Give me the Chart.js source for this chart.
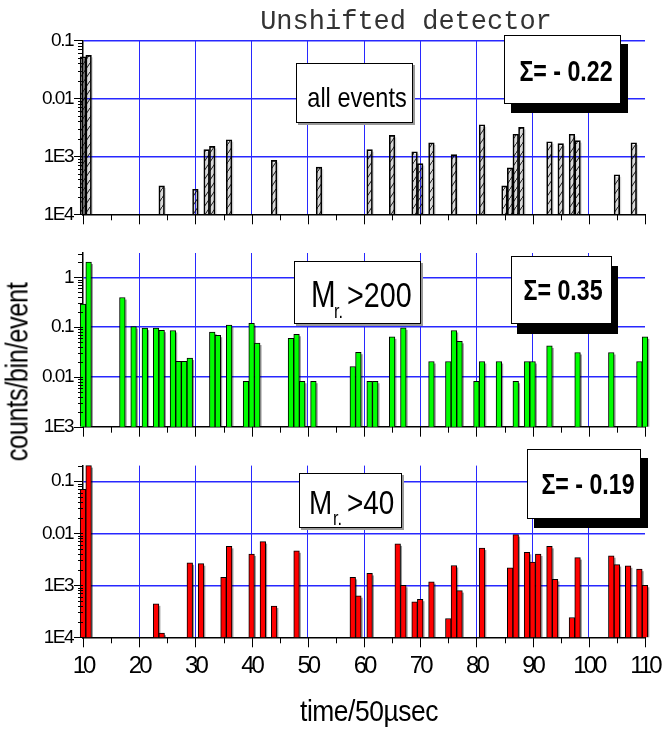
<!DOCTYPE html>
<html>
<head>
<meta charset="utf-8">
<script src="https://cdn.jsdelivr.net/npm/chart.js@4.4.1/dist/chart.umd.min.js"></script>
<style>
  html, body { margin: 0; padding: 0; background: #fff; }
  #wrap { position: relative; width: 663px; height: 732px; overflow: hidden; }
  #wrap canvas { position: absolute; left: 0; }
  .txt { position: absolute; white-space: nowrap; color: #000; }
  #title { left: 406px; top: 9px; font: 27px 'Liberation Mono', monospace; line-height: 27px; color: #333; transform: translateX(-50%); }
  #xlab { left: 369px; top: 696px; font: 30px 'Liberation Sans', sans-serif; line-height: 30px; letter-spacing: -0.5px; transform: translateX(-50%) scaleX(0.88); }
  #ylab { left: 17px; top: 372px; font: 31px 'Liberation Sans', sans-serif; line-height: 31px; letter-spacing: -0.5px; transform: translate(-50%, -50%) rotate(-90deg) scaleX(0.82); }
</style>
</head>
<body>
<div id="wrap">
  <canvas id="c1" width="663" height="232" style="top:0px"></canvas>
  <canvas id="c2" width="663" height="212" style="top:232px"></canvas>
  <canvas id="c3" width="663" height="288" style="top:444px"></canvas>
  <div class="txt" id="title">Unshifted detector</div>
  <div class="txt" id="ylab">counts/bin/event</div>
  <div class="txt" id="xlab">time/50µsec</div>
</div>
<script>
// all events
const bins1 = [10, 11, 24, 30, 32, 33, 36, 44, 52, 61, 65, 69, 70, 72, 76, 81, 85, 86, 87, 88, 93, 95, 97, 98, 105, 108];
const vals1 = [0.052, 0.055, 3.1e-4, 2.7e-4, 1.3e-3, 1.48e-3, 1.93e-3, 8.5e-4, 6.5e-4, 1.3e-3, 2.3e-3, 1.2e-3, 7.5e-4, 1.7e-3, 1.07e-3, 3.5e-3, 3.1e-4, 6.3e-4, 2.4e-3, 3.15e-3, 1.78e-3, 1.65e-3, 2.4e-3, 1.86e-3, 4.8e-4, 1.71e-3];

// Mr > 200
const bins2 = [10, 11, 17, 19, 21, 23, 24, 26, 27, 28, 29, 33, 34, 36, 39, 40, 41, 47, 48, 49, 51, 58, 59, 61, 62, 65, 67, 72, 75, 76, 77, 80, 81, 84, 87, 89, 90, 93, 98, 104, 109, 110];
const vals2 = [0.29, 2.04, 0.395, 0.103, 0.096, 0.096, 0.087, 0.086, 0.0206, 0.0206, 0.024, 0.08, 0.069, 0.11, 0.0082, 0.119, 0.048, 0.06, 0.072, 0.0082, 0.0082, 0.0162, 0.0314, 0.0082, 0.0082, 0.064, 0.097, 0.0204, 0.0204, 0.086, 0.052, 0.0082, 0.0204, 0.0204, 0.0082, 0.0204, 0.0204, 0.042, 0.031, 0.031, 0.0204, 0.064];

// Mr > 40
const bins3 = [10, 11, 23, 24, 29, 31, 35, 36, 40, 42, 44, 48, 58, 59, 61, 66, 67, 69, 70, 72, 75, 76, 77, 81, 86, 87, 89, 90, 91, 93, 94, 97, 98, 104, 105, 107, 109, 110];
const vals3 = [0.07, 0.2, 4.4e-4, 1.2e-4, 2.7e-3, 2.6e-3, 1.42e-3, 5.6e-3, 4.0e-3, 6.9e-3, 4.0e-4, 4.6e-3, 1.42e-3, 6.3e-4, 1.69e-3, 6.25e-3, 1.0e-3, 4.8e-4, 5.4e-4, 1.17e-3, 2.3e-4, 2.4e-3, 7.9e-4, 5.2e-3, 2.16e-3, 9.4e-3, 4.3e-3, 2.8e-3, 4.0e-3, 5.6e-3, 1.3e-3, 2.4e-4, 3.4e-3, 3.7e-3, 2.5e-3, 2.37e-3, 2.04e-3, 1.0e-3];

// tick labels
const yTicks1 = [1e-4, 1e-3, 1e-2, 0.1];
const yLabels1 = ['1E4', '1E3', '0.01', '0.1'];
const yTicks2 = [1e-3, 1e-2, 0.1, 1];
const yLabels2 = ['1E3', '0.01', '0.1', '1'];
const yTicks3 = [1e-4, 1e-3, 1e-2, 0.1];
const yLabels3 = ['1E4', '1E3', '0.01', '0.1'];

const SANS = "'Liberation Sans', Arial, sans-serif";
const BLUE = 'rgb(40, 40, 255)';
const NONE = 'rgba(255, 255, 255, 0)';

Chart.defaults.font.family = SANS;
Chart.defaults.color = '#000';
Chart.defaults.animation = false;

const isDecade = v => Math.abs(Math.log10(v) - Math.round(Math.log10(v))) < 1e-6;

function hatch() {
    const c = document.createElement('canvas');
    c.width = 6; c.height = 9;
    const g = c.getContext('2d');
    g.strokeStyle = '#000';
    g.lineWidth = 0.9;
    g.beginPath();
    g.moveTo(-1, 10.5); g.lineTo(7, -1.5);
    g.stroke();
    return g.createPattern(c, 'repeat');
}

// tighter tick labels, like the condensed face of the original
function squeeze(scale, spacing) {
    if (scale._squeezed) return;
    const orig = scale.drawLabels.bind(scale);
    scale.drawLabels = area => {
        const ctx = scale.ctx;
        const prev = ctx.letterSpacing;
        ctx.letterSpacing = spacing;
        orig(area);
        ctx.letterSpacing = prev;
    };
    scale._squeezed = true;
}

// shadows under the bars and all tick marks
const decoPlugin = {
    id: 'deco',
    beforeDatasetsDraw(chart) {
        const ctx = chart.ctx;
        const meta = chart.getDatasetMeta(0);
        ctx.save();
        ctx.fillStyle = chart.options.shadowColor;
        meta.data.forEach(el => {
            const p = el.getProps(['x', 'y', 'base', 'width'], true);
            ctx.fillRect(p.x - p.width / 2 + 1.5, p.y + 2, p.width, p.base - p.y - 2);
        });
        ctx.restore();
    },
    afterDraw(chart) {
        const ctx = chart.ctx;
        const xs = chart.scales.x, ys = chart.scales.y;
        ctx.save();
        ctx.strokeStyle = '#000';
        ctx.lineWidth = 1;
        ys.ticks.forEach(t => {
            const py = Math.round(ys.getPixelForValue(t.value)) + 0.5;
            const len = isDecade(t.value) ? 9 : 5;
            ctx.beginPath();
            ctx.moveTo(ys.right - len, py);
            ctx.lineTo(ys.right, py);
            ctx.stroke();
        });
        xs.ticks.forEach(t => {
            const px = Math.round(xs.getPixelForValue(t.value)) + 0.5;
            const len = t.value % 10 === 0 ? 10 : 6;
            ctx.beginPath();
            ctx.moveTo(px, xs.top);
            ctx.lineTo(px, xs.top + len);
            ctx.stroke();
        });
        ctx.restore();
    }
};

function boxPlugin(offsetY, boxes) {
    return {
        id: 'boxes',
        afterDraw(chart) {
            const ctx = chart.ctx;
            ctx.save();
            boxes.forEach(b => {
                const y = b.y - offsetY;
                ctx.fillStyle = b.shadow;
                ctx.fillRect(b.x + b.sx, y + b.sy, b.w, b.h);
                ctx.fillStyle = '#fff';
                ctx.fillRect(b.x, y, b.w, b.h);
                ctx.strokeStyle = '#000';
                ctx.lineWidth = 1;
                ctx.strokeRect(b.x + 0.5, y + 0.5, b.w - 1, b.h - 1);
                b.texts.forEach(t => {
                    ctx.save();
                    ctx.font = t.font;
                    ctx.fillStyle = '#000';
                    ctx.textAlign = t.align || 'left';
                    ctx.textBaseline = 'alphabetic';
                    ctx.translate(t.x, t.y - offsetY);
                    ctx.scale(t.sx || 0.82, 1);
                    ctx.fillText(t.text, 0, 0);
                    ctx.restore();
                });
            });
            ctx.restore();
        }
    };
}

function makePanel(id, opts) {
    const { bins, vals, fill, shadow, min, max, ticks, labels, padTop, axisH, showX, boxes, offsetY } = opts;
    return new Chart(document.getElementById(id), {
        type: 'bar',
        data: {
            datasets: [{
                data: bins.map((b, i) => ({ x: b, y: vals[i] })),
                backgroundColor: fill,
                borderColor: '#000',
                borderWidth: 1,
                borderSkipped: 'start',
                barPercentage: 1,
                categoryPercentage: 1,
                clip: false
            }]
        },
        options: {
            responsive: false,
            shadowColor: shadow,
            layout: { padding: { top: padTop, right: 18, bottom: 0, left: 0 } },
            plugins: { legend: { display: false }, tooltip: { enabled: false } },
            scales: {
                x: {
                    type: 'linear',
                    offset: false,
                    min: 10,
                    max: 110,
                    afterFit: s => {
                        s.height = axisH;
                        s.paddingLeft = 0;
                        s.paddingRight = 0;
                        squeeze(s, '-3px');
                    },
                    border: { display: true, color: '#000', width: 1.5 },
                    grid: {
                        offset: false,
                        drawTicks: false,
                        lineWidth: 1,
                        color: c => (c.tick && c.tick.value % 10 === 0 && c.tick.value > 10 && c.tick.value < 110) ? BLUE : NONE
                    },
                    ticks: {
                        display: showX,
                        stepSize: 5,
                        autoSkip: false,
                        maxRotation: 0,
                        padding: 15,
                        font: { size: 24 },
                        callback: v => (v % 10 === 0 ? String(v) : '')
                    }
                },
                y: {
                    type: 'logarithmic',
                    min: min,
                    max: max,
                    afterFit: s => {
                        s.width = 83;
                        s.paddingTop = 0;
                        s.paddingBottom = 0;
                        squeeze(s, '-1.5px');
                    },
                    afterBuildTicks: s => {
                        const out = [];
                        for (let e = Math.floor(Math.log10(min)); e <= Math.ceil(Math.log10(max)); e++) {
                            for (let m = 1; m <= 9; m++) {
                                const v = m * Math.pow(10, e);
                                if (v >= min * 0.999 && v <= max * 1.001) out.push({ value: v });
                            }
                        }
                        s.ticks = out;
                    },
                    border: { display: true, color: '#000', width: 1.5 },
                    grid: {
                        drawTicks: false,
                        lineWidth: 1.4,
                        color: c => (c.tick && isDecade(c.tick.value) && c.tick.value > min * 1.001) ? BLUE : NONE
                    },
                    ticks: {
                        autoSkip: false,
                        padding: 10,
                        font: { size: 19 },
                        callback: v => {
                            const i = ticks.findIndex(t => Math.abs(t - v) / t < 1e-6);
                            return i >= 0 ? labels[i] : '';
                        }
                    }
                }
            }
        },
        plugins: [decoPlugin, boxPlugin(offsetY, boxes)]
    });
}

makePanel('c1', {
    bins: bins1, vals: vals1, fill: hatch(), shadow: 'rgba(0,0,0,0.15)',
    min: 1e-4, max: 0.1, ticks: yTicks1, labels: yLabels1,
    padTop: 40.3, axisH: 17.7, showX: false, offsetY: 0,
    boxes: [
        { x: 296, y: 63, w: 117, h: 60, shadow: '#999', sx: 2, sy: 2,
          texts: [{ text: 'all events', font: '28px ' + SANS, x: 357, y: 107, align: 'center', sx: 0.84 }] },
        { x: 504, y: 35, w: 117, h: 69, shadow: '#000', sx: 7, sy: 9,
          texts: [{ text: 'Σ= - 0.22', font: 'bold 29px ' + SANS, x: 566, y: 81, align: 'center', sx: 0.8 }] }
    ]
});

makePanel('c2', {
    bins: bins2, vals: vals2, fill: '#00ff00', shadow: 'rgba(0,0,0,0.4)',
    min: 1e-3, max: 3.1, ticks: yTicks2, labels: yLabels2,
    padTop: 21, axisH: 17.3, showX: false, offsetY: 232,
    boxes: [
        { x: 294, y: 261, w: 127, h: 63, shadow: '#999', sx: 2, sy: 2,
          texts: [
              { text: 'M', font: '36px ' + SANS, x: 311, y: 307 },
              { text: 'r.', font: '20px ' + SANS, x: 334, y: 318 },
              { text: '>200', font: '35px ' + SANS, x: 347, y: 307 }
          ] },
        { x: 511, y: 256, w: 101, h: 68, shadow: '#000', sx: 6, sy: 10,
          texts: [{ text: 'Σ= 0.35', font: 'bold 29px ' + SANS, x: 563, y: 300, align: 'center', sx: 0.8 }] }
    ]
});

makePanel('c3', {
    bins: bins3, vals: vals3, fill: '#ff0000', shadow: 'rgba(0,0,0,0.4)',
    min: 1e-4, max: 0.2, ticks: yTicks3, labels: yLabels3,
    padTop: 21.6, axisH: 94.7, showX: true, offsetY: 444,
    boxes: [
        { x: 299, y: 473, w: 103, h: 55, shadow: '#999', sx: 2, sy: 2,
          texts: [
              { text: 'M', font: '34px ' + SANS, x: 309, y: 514 },
              { text: 'r.', font: '20px ' + SANS, x: 333, y: 525 },
              { text: '>40', font: '34px ' + SANS, x: 347, y: 514 }
          ] },
        { x: 527, y: 449, w: 114, h: 70, shadow: '#000', sx: 7, sy: 9,
          texts: [{ text: 'Σ= - 0.19', font: 'bold 29px ' + SANS, x: 588, y: 494, align: 'center', sx: 0.8 }] }
    ]
});
</script>
</body>
</html>
